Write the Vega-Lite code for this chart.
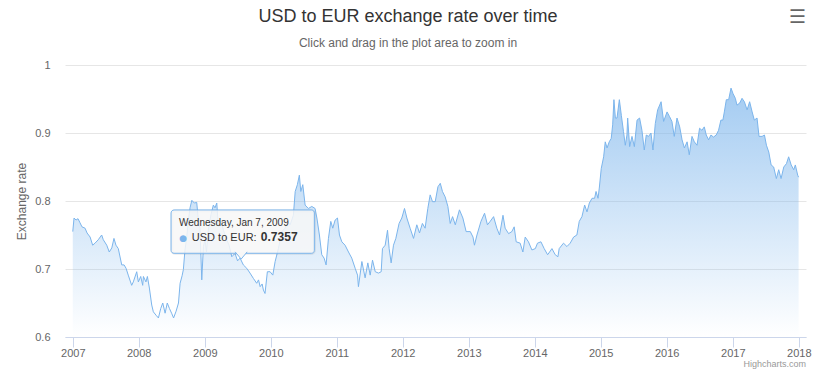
{
  "$schema": "https://vega.github.io/schema/vega-lite/v6.json",
  "width": 741,
  "height": 272,
  "autosize": {"type": "none"},
  "padding": {"left": 65, "top": 65, "right": 12, "bottom": 42},
  "background": "#ffffff",
  "config": {
    "view": {"stroke": null},
    "font": "Liberation Sans"
  },
  "title": {
    "text": "USD to EUR exchange rate over time",
    "subtitle": "Click and drag in the plot area to zoom in",
    "anchor": "middle",
    "frame": "group",
    "dx": -27.5,
    "font": "Liberation Sans",
    "fontSize": 18,
    "fontWeight": "normal",
    "color": "#333333",
    "subtitleFont": "Liberation Sans",
    "subtitleFontSize": 12,
    "subtitleColor": "#666666",
    "subtitlePadding": 12,
    "offset": -41
  },
  "layer": [
    {
      "data": {
        "values": [
          {"date":"2007-01-01","rate":0.755},{"date":"2007-01-08","rate":0.775},{"date":"2007-01-19","rate":0.772},{"date":"2007-01-30","rate":0.774},
          {"date":"2007-02-10","rate":0.768},{"date":"2007-02-21","rate":0.762},{"date":"2007-03-10","rate":0.760},{"date":"2007-03-21","rate":0.753},
          {"date":"2007-04-07","rate":0.747},{"date":"2007-04-21","rate":0.735},{"date":"2007-05-04","rate":0.738},{"date":"2007-05-22","rate":0.743},
          {"date":"2007-06-10","rate":0.750},{"date":"2007-06-19","rate":0.743},{"date":"2007-07-08","rate":0.735},{"date":"2007-07-22","rate":0.725},
          {"date":"2007-08-05","rate":0.731},{"date":"2007-08-17","rate":0.745},{"date":"2007-08-28","rate":0.735},{"date":"2007-09-10","rate":0.730},
          {"date":"2007-09-29","rate":0.706},{"date":"2007-10-12","rate":0.706},{"date":"2007-10-23","rate":0.701},{"date":"2007-11-04","rate":0.691},
          {"date":"2007-11-23","rate":0.676},{"date":"2007-12-02","rate":0.681},{"date":"2007-12-21","rate":0.696},{"date":"2007-12-30","rate":0.681},
          {"date":"2008-01-12","rate":0.689},{"date":"2008-01-23","rate":0.676},{"date":"2008-01-27","rate":0.689},{"date":"2008-02-10","rate":0.681},
          {"date":"2008-02-18","rate":0.689},{"date":"2008-02-29","rate":0.672},{"date":"2008-03-13","rate":0.647},{"date":"2008-03-22","rate":0.637},
          {"date":"2008-04-06","rate":0.632},{"date":"2008-04-19","rate":0.628},{"date":"2008-05-02","rate":0.642},{"date":"2008-05-13","rate":0.650},
          {"date":"2008-05-26","rate":0.635},{"date":"2008-06-07","rate":0.650},{"date":"2008-06-19","rate":0.642},{"date":"2008-07-01","rate":0.635},
          {"date":"2008-07-12","rate":0.628},{"date":"2008-07-26","rate":0.638},{"date":"2008-08-08","rate":0.650},{"date":"2008-08-17","rate":0.679},
          {"date":"2008-08-28","rate":0.690},{"date":"2008-09-04","rate":0.699},{"date":"2008-09-13","rate":0.728},{"date":"2008-09-22","rate":0.745},
          {"date":"2008-10-02","rate":0.772},{"date":"2008-10-11","rate":0.790},{"date":"2008-10-21","rate":0.801},{"date":"2008-11-04","rate":0.797},
          {"date":"2008-11-17","rate":0.798},{"date":"2008-11-26","rate":0.772},{"date":"2008-12-05","rate":0.760},{"date":"2008-12-15","rate":0.684},
          {"date":"2008-12-24","rate":0.733},{"date":"2009-01-02","rate":0.743},{"date":"2009-01-10","rate":0.725},{"date":"2009-01-20","rate":0.757},
          {"date":"2009-02-04","rate":0.780},{"date":"2009-02-17","rate":0.794},{"date":"2009-02-26","rate":0.790},{"date":"2009-03-08","rate":0.797},
          {"date":"2009-03-17","rate":0.762},{"date":"2009-04-01","rate":0.770},{"date":"2009-04-14","rate":0.757},{"date":"2009-05-02","rate":0.743},
          {"date":"2009-05-15","rate":0.735},{"date":"2009-05-30","rate":0.718},{"date":"2009-06-17","rate":0.723},{"date":"2009-07-01","rate":0.712},
          {"date":"2009-07-15","rate":0.716},{"date":"2009-08-02","rate":0.706},{"date":"2009-08-21","rate":0.701},{"date":"2009-09-08","rate":0.694},
          {"date":"2009-09-27","rate":0.686},{"date":"2009-10-15","rate":0.679},{"date":"2009-10-25","rate":0.684},{"date":"2009-11-03","rate":0.674},
          {"date":"2009-11-14","rate":0.678},{"date":"2009-11-21","rate":0.669},{"date":"2009-11-30","rate":0.664},{"date":"2009-12-13","rate":0.696},
          {"date":"2009-12-28","rate":0.696},{"date":"2010-01-12","rate":0.691},{"date":"2010-01-25","rate":0.711},{"date":"2010-02-12","rate":0.730},
          {"date":"2010-03-03","rate":0.755},{"date":"2010-03-21","rate":0.760},{"date":"2010-04-04","rate":0.770},{"date":"2010-04-18","rate":0.765},
          {"date":"2010-05-06","rate":0.779},{"date":"2010-05-16","rate":0.814},{"date":"2010-05-28","rate":0.824},{"date":"2010-06-08","rate":0.838},
          {"date":"2010-06-16","rate":0.814},{"date":"2010-06-27","rate":0.824},{"date":"2010-07-10","rate":0.794},{"date":"2010-07-28","rate":0.789},
          {"date":"2010-08-16","rate":0.792},{"date":"2010-09-03","rate":0.789},{"date":"2010-09-13","rate":0.775},{"date":"2010-09-27","rate":0.750},
          {"date":"2010-10-10","rate":0.721},{"date":"2010-10-23","rate":0.716},{"date":"2010-11-03","rate":0.706},{"date":"2010-11-16","rate":0.745},
          {"date":"2010-11-29","rate":0.770},{"date":"2010-12-10","rate":0.760},{"date":"2010-12-23","rate":0.772},{"date":"2011-01-05","rate":0.775},
          {"date":"2011-01-16","rate":0.750},{"date":"2011-01-29","rate":0.740},{"date":"2011-02-16","rate":0.735},{"date":"2011-03-07","rate":0.725},
          {"date":"2011-03-25","rate":0.716},{"date":"2011-04-13","rate":0.701},{"date":"2011-04-26","rate":0.691},{"date":"2011-05-01","rate":0.674},
          {"date":"2011-05-20","rate":0.711},{"date":"2011-06-07","rate":0.687},{"date":"2011-06-22","rate":0.709},{"date":"2011-07-05","rate":0.691},
          {"date":"2011-07-18","rate":0.713},{"date":"2011-08-02","rate":0.696},{"date":"2011-08-20","rate":0.694},{"date":"2011-09-04","rate":0.696},
          {"date":"2011-09-11","rate":0.730},{"date":"2011-09-26","rate":0.735},{"date":"2011-10-09","rate":0.757},{"date":"2011-10-18","rate":0.730},
          {"date":"2011-10-29","rate":0.709},{"date":"2011-11-11","rate":0.735},{"date":"2011-11-24","rate":0.745},{"date":"2011-12-12","rate":0.767},
          {"date":"2011-12-27","rate":0.775},{"date":"2012-01-11","rate":0.789},{"date":"2012-01-24","rate":0.775},{"date":"2012-02-11","rate":0.760},
          {"date":"2012-03-01","rate":0.745},{"date":"2012-03-19","rate":0.765},{"date":"2012-04-03","rate":0.753},{"date":"2012-04-19","rate":0.767},
          {"date":"2012-05-04","rate":0.760},{"date":"2012-05-19","rate":0.789},{"date":"2012-06-01","rate":0.809},{"date":"2012-06-14","rate":0.799},
          {"date":"2012-06-29","rate":0.799},{"date":"2012-07-14","rate":0.821},{"date":"2012-07-27","rate":0.826},{"date":"2012-08-08","rate":0.814},
          {"date":"2012-08-23","rate":0.806},{"date":"2012-09-07","rate":0.792},{"date":"2012-09-20","rate":0.767},{"date":"2012-10-03","rate":0.777},
          {"date":"2012-10-18","rate":0.765},{"date":"2012-11-10","rate":0.787},{"date":"2012-11-29","rate":0.775},{"date":"2012-12-17","rate":0.755},
          {"date":"2013-01-09","rate":0.755},{"date":"2013-01-24","rate":0.747},{"date":"2013-02-01","rate":0.735},{"date":"2013-02-15","rate":0.750},
          {"date":"2013-03-09","rate":0.770},{"date":"2013-03-29","rate":0.782},{"date":"2013-04-14","rate":0.765},{"date":"2013-04-29","rate":0.770},
          {"date":"2013-05-18","rate":0.777},{"date":"2013-06-05","rate":0.760},{"date":"2013-06-20","rate":0.750},{"date":"2013-07-09","rate":0.779},
          {"date":"2013-07-21","rate":0.760},{"date":"2013-08-09","rate":0.752},{"date":"2013-08-27","rate":0.755},{"date":"2013-09-09","rate":0.762},
          {"date":"2013-09-20","rate":0.740},{"date":"2013-10-12","rate":0.738},{"date":"2013-10-27","rate":0.725},{"date":"2013-11-09","rate":0.747},
          {"date":"2013-11-27","rate":0.740},{"date":"2013-12-16","rate":0.728},{"date":"2014-01-04","rate":0.730},{"date":"2014-01-16","rate":0.738},
          {"date":"2014-02-04","rate":0.740},{"date":"2014-02-22","rate":0.730},{"date":"2014-03-13","rate":0.721},{"date":"2014-03-24","rate":0.725},
          {"date":"2014-04-06","rate":0.730},{"date":"2014-04-24","rate":0.721},{"date":"2014-05-09","rate":0.718},{"date":"2014-05-16","rate":0.730},
          {"date":"2014-06-09","rate":0.738},{"date":"2014-06-28","rate":0.733},{"date":"2014-07-16","rate":0.738},{"date":"2014-08-04","rate":0.747},
          {"date":"2014-08-22","rate":0.750},{"date":"2014-09-04","rate":0.770},{"date":"2014-09-19","rate":0.777},{"date":"2014-10-04","rate":0.794},
          {"date":"2014-10-17","rate":0.784},{"date":"2014-10-30","rate":0.797},{"date":"2014-11-14","rate":0.804},{"date":"2014-11-28","rate":0.804},
          {"date":"2014-12-06","rate":0.814},{"date":"2014-12-17","rate":0.804},{"date":"2014-12-24","rate":0.819},{"date":"2015-01-04","rate":0.848},
          {"date":"2015-01-17","rate":0.865},{"date":"2015-01-26","rate":0.887},{"date":"2015-02-05","rate":0.878},{"date":"2015-02-17","rate":0.887},
          {"date":"2015-02-28","rate":0.892},{"date":"2015-03-08","rate":0.912},{"date":"2015-03-15","rate":0.949},{"date":"2015-03-23","rate":0.922},
          {"date":"2015-04-01","rate":0.922},{"date":"2015-04-14","rate":0.949},{"date":"2015-04-25","rate":0.926},{"date":"2015-05-07","rate":0.902},
          {"date":"2015-05-17","rate":0.882},{"date":"2015-05-26","rate":0.897},{"date":"2015-05-30","rate":0.922},{"date":"2015-06-10","rate":0.880},
          {"date":"2015-06-23","rate":0.895},{"date":"2015-07-06","rate":0.880},{"date":"2015-07-21","rate":0.919},{"date":"2015-08-04","rate":0.922},
          {"date":"2015-08-17","rate":0.904},{"date":"2015-08-30","rate":0.875},{"date":"2015-09-10","rate":0.897},{"date":"2015-09-23","rate":0.895},
          {"date":"2015-10-06","rate":0.900},{"date":"2015-10-17","rate":0.875},{"date":"2015-10-30","rate":0.914},{"date":"2015-11-12","rate":0.934},
          {"date":"2015-12-01","rate":0.946},{"date":"2015-12-15","rate":0.917},{"date":"2016-01-03","rate":0.931},{"date":"2016-01-17","rate":0.924},
          {"date":"2016-01-30","rate":0.917},{"date":"2016-02-12","rate":0.895},{"date":"2016-02-27","rate":0.922},{"date":"2016-03-13","rate":0.909},
          {"date":"2016-03-26","rate":0.890},{"date":"2016-04-08","rate":0.878},{"date":"2016-04-23","rate":0.887},{"date":"2016-05-05","rate":0.868},
          {"date":"2016-05-20","rate":0.895},{"date":"2016-06-02","rate":0.887},{"date":"2016-06-17","rate":0.882},{"date":"2016-07-01","rate":0.907},
          {"date":"2016-07-14","rate":0.904},{"date":"2016-07-27","rate":0.909},{"date":"2016-08-07","rate":0.897},{"date":"2016-08-20","rate":0.890},
          {"date":"2016-09-02","rate":0.897},{"date":"2016-09-16","rate":0.894},{"date":"2016-10-01","rate":0.897},{"date":"2016-10-14","rate":0.904},
          {"date":"2016-10-27","rate":0.919},{"date":"2016-11-07","rate":0.919},{"date":"2016-11-15","rate":0.931},{"date":"2016-11-26","rate":0.949},
          {"date":"2016-12-09","rate":0.949},{"date":"2016-12-22","rate":0.966},{"date":"2017-01-02","rate":0.958},{"date":"2017-01-15","rate":0.951},
          {"date":"2017-01-24","rate":0.941},{"date":"2017-02-08","rate":0.944},{"date":"2017-02-21","rate":0.951},{"date":"2017-03-06","rate":0.946},
          {"date":"2017-03-21","rate":0.934},{"date":"2017-04-04","rate":0.946},{"date":"2017-04-18","rate":0.931},{"date":"2017-04-30","rate":0.919},
          {"date":"2017-05-15","rate":0.922},{"date":"2017-05-26","rate":0.895},{"date":"2017-06-12","rate":0.895},{"date":"2017-06-25","rate":0.897},
          {"date":"2017-07-06","rate":0.882},{"date":"2017-07-19","rate":0.872},{"date":"2017-08-01","rate":0.853},{"date":"2017-08-15","rate":0.850},
          {"date":"2017-08-30","rate":0.833},{"date":"2017-09-12","rate":0.846},{"date":"2017-09-25","rate":0.833},{"date":"2017-10-10","rate":0.850},
          {"date":"2017-10-25","rate":0.855},{"date":"2017-11-06","rate":0.865},{"date":"2017-11-20","rate":0.853},{"date":"2017-12-04","rate":0.846},
          {"date":"2017-12-13","rate":0.853},{"date":"2017-12-26","rate":0.838},{"date":"2017-12-31","rate":0.835}
        ],
        "format": {"parse": {"date": "date:'%Y-%m-%d'"}}
      },
      "mark": {
        "type": "area",
        "interpolate": "linear",
        "color": {
          "gradient": "linear",
          "x1": 0, "y1": 0, "x2": 0, "y2": 1,
          "stops": [
            {"offset": 0, "color": "#7cb5ec"},
            {"offset": 1, "color": "rgba(124,181,236,0)"}
          ]
        },
        "line": {"color": "#7cb5ec", "strokeWidth": 1}
      },
      "encoding": {
        "x": {
          "field": "date",
          "type": "temporal",
          "scale": {"domain": [{"year": 2006, "month": 11, "date": 19}, {"year": 2018, "month": 2, "date": 10}]},
          "axis": {
            "title": null,
            "values": [
              {"year": 2007, "month": 1, "date": 1}, {"year": 2008, "month": 1, "date": 1}, {"year": 2009, "month": 1, "date": 1},
              {"year": 2010, "month": 1, "date": 1}, {"year": 2011, "month": 1, "date": 1}, {"year": 2012, "month": 1, "date": 1},
              {"year": 2013, "month": 1, "date": 1}, {"year": 2014, "month": 1, "date": 1}, {"year": 2015, "month": 1, "date": 1},
              {"year": 2016, "month": 1, "date": 1}, {"year": 2017, "month": 1, "date": 1}, {"year": 2018, "month": 1, "date": 1}
            ],
            "format": "%Y",
            "grid": false,
            "domainColor": "#ccd6eb",
            "tickColor": "#ccd6eb",
            "tickSize": 10,
            "labelPadding": 0,
            "labelColor": "#666666",
            "labelFont": "Liberation Sans",
            "labelFontSize": 11,
            "labelFlush": false,
            "labelOverlap": false
          }
        },
        "y": {
          "field": "rate",
          "type": "quantitative",
          "scale": {"domain": [0.6, 1], "nice": false, "zero": false},
          "axis": {
            "title": "Exchange rate",
            "values": [0.6, 0.7, 0.8, 0.9, 1],
            "format": "~g",
            "grid": true,
            "gridColor": "#e6e6e6",
            "domain": false,
            "ticks": false,
            "tickSize": 0,
            "labelPadding": 15,
            "labelColor": "#666666",
            "labelFont": "Liberation Sans",
            "labelFontSize": 11,
            "titleColor": "#666666",
            "titleFont": "Liberation Sans",
            "titleFontSize": 12,
            "titleFontWeight": "normal",
            "titlePadding": 6
          }
        },
        "y2": {"datum": 0.6}
      }
    },
    {
      "data": {"values": [{}]},
      "mark": {"type": "rect", "filled": false, "stroke": "#000000", "strokeOpacity": 0.08, "strokeWidth": 3, "cornerRadius": 3, "xOffset": 1, "yOffset": 1},
      "encoding": {
        "x": {"datum": {"year": 2008, "month": 6, "date": 28}, "type": "temporal"},
        "x2": {"datum": {"year": 2010, "month": 8, "date": 30}},
        "y": {"datum": 0.7868},
        "y2": {"datum": 0.7231}
      }
    },
    {
      "data": {"values": [{}]},
      "mark": {"type": "rect", "fill": "#f7f7f7", "fillOpacity": 0.85, "stroke": "#7cb5ec", "strokeWidth": 1, "cornerRadius": 3},
      "encoding": {
        "x": {"datum": {"year": 2008, "month": 6, "date": 28}, "type": "temporal"},
        "x2": {"datum": {"year": 2010, "month": 8, "date": 30}},
        "y": {"datum": 0.7868},
        "y2": {"datum": 0.7231}
      }
    },
    {
      "data": {"values": [{}]},
      "mark": {"type": "point", "shape": "M-1,-0.6L0,0.6L1,-0.6", "size": 144, "filled": true, "fill": "#f7f7f7", "fillOpacity": 1, "stroke": "#7cb5ec", "strokeWidth": 1, "opacity": 1},
      "encoding": {
        "x": {"datum": {"year": 2009, "month": 7, "date": 21}, "type": "temporal"},
        "y": {"datum": 0.7199}
      }
    },
    {
      "data": {"values": [{}]},
      "mark": {"type": "text", "text": "Wednesday, Jan 7, 2009", "align": "left", "baseline": "alphabetic", "font": "Liberation Sans", "fontSize": 10, "color": "#333333"},
      "encoding": {
        "x": {"datum": {"year": 2008, "month": 8, "date": 11}, "type": "temporal"},
        "y": {"datum": 0.7632}
      }
    },
    {
      "data": {"values": [{}]},
      "mark": {"type": "text", "text": "●", "align": "center", "baseline": "alphabetic", "font": "DejaVu Sans", "fontSize": 9, "color": "#7cb5ec"},
      "encoding": {
        "x": {"datum": {"year": 2008, "month": 9, "date": 3}, "type": "temporal"},
        "y": {"datum": 0.7407}
      }
    },
    {
      "data": {"values": [{}]},
      "mark": {"type": "text", "text": "USD to EUR:", "align": "left", "baseline": "alphabetic", "font": "Liberation Sans", "fontSize": 11, "color": "#333333"},
      "encoding": {
        "x": {"datum": {"year": 2008, "month": 10, "date": 21}, "type": "temporal"},
        "y": {"datum": 0.7407}
      }
    },
    {
      "data": {"values": [{}]},
      "mark": {"type": "text", "text": "0.7357", "align": "left", "baseline": "alphabetic", "font": "Liberation Sans", "fontSize": 12, "fontWeight": "bold", "color": "#333333"},
      "encoding": {
        "x": {"datum": {"year": 2009, "month": 11, "date": 7}, "type": "temporal"},
        "y": {"datum": 0.7407}
      }
    },
    {
      "data": {"values": [{}]},
      "mark": {"type": "text", "text": "Highcharts.com", "align": "right", "baseline": "alphabetic", "font": "Liberation Sans", "fontSize": 9, "color": "#999999"},
      "encoding": {
        "x": {"datum": {"year": 2018, "month": 2, "date": 10}, "type": "temporal"},
        "y": {"datum": 0.5559}
      }
    },
    {
      "data": {"values": [{}]},
      "mark": {"type": "text", "text": "☰", "align": "center", "baseline": "middle", "font": "DejaVu Sans", "fontSize": 19, "fontWeight": "bold", "color": "#666666"},
      "encoding": {
        "x": {"datum": {"year": 2017, "month": 12, "date": 24}, "type": "temporal"},
        "y": {"datum": 1.0713}
      }
    }
  ]
}
